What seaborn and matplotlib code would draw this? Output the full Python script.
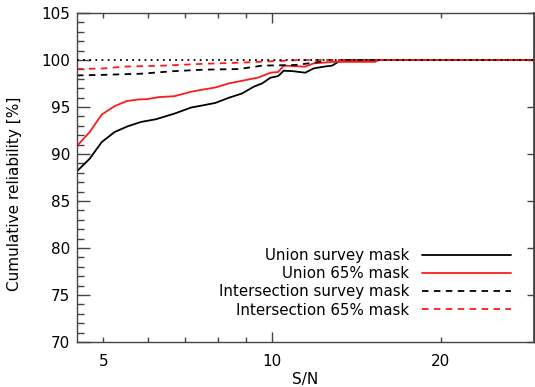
import numpy as np
import pandas as pd
import matplotlib
matplotlib.use("Agg")
import matplotlib.pyplot as plt
from matplotlib.ticker import FixedLocator, FuncFormatter, MultipleLocator, NullFormatter
import seaborn as sns

# Cumulative reliability (%) versus S/N threshold for each mask definition
sn_union_survey = [4.49, 4.73, 4.97, 5.24, 5.53, 5.84, 6.21, 6.70, 7.17, 7.55, 7.93, 8.37,
                   8.84, 9.27, 9.60, 9.93, 10.25, 10.49, 10.86, 11.46, 11.86, 12.36, 12.79,
                   13.23, 13.5, 29.5]
rel_union_survey = [88.17, 89.5, 91.27, 92.34, 92.95, 93.41, 93.70, 94.30, 94.94, 95.19, 95.44,
                    95.98, 96.44, 97.15, 97.51, 98.11, 98.29, 98.86, 98.82, 98.65, 99.11, 99.29,
                    99.40, 99.93, 100.0, 100.0]

sn_union_65 = [4.49, 4.73, 4.97, 5.24, 5.50, 5.77, 5.98, 6.28, 6.70, 7.17, 7.55, 7.93, 8.37,
               8.96, 9.47, 9.93, 10.25, 10.49, 11.46, 11.86, 12.36, 12.79, 15.27, 15.48, 29.5]
rel_union_65 = [90.85, 92.34, 94.2, 95.09, 95.62, 95.80, 95.83, 96.05, 96.15, 96.62, 96.87,
                97.08, 97.51, 97.86, 98.15, 98.65, 98.72, 99.40, 99.29, 99.64, 99.72, 99.80,
                99.80, 100.0, 100.0]

sn_inter_survey = [4.49, 5.0, 5.84, 6.70, 7.55, 8.73, 9.60, 10.99, 11.92, 12.6, 29.5]
rel_inter_survey = [98.36, 98.42, 98.54, 98.82, 98.97, 99.04, 99.40, 99.47, 99.72, 100.0, 100.0]

sn_inter_65 = [4.49, 5.0, 5.46, 6.4, 7.55, 8.6, 9.6, 10.5, 11.2, 29.5]
rel_inter_65 = [99.04, 99.10, 99.30, 99.40, 99.60, 99.70, 99.82, 99.92, 100.0, 100.0]

labels = ["Union survey mask", "Union 65% mask",
          "Intersection survey mask", "Intersection 65% mask"]

sns.set_theme(style="white")
plt.rcParams["font.family"] = ["DejaVu Sans"]
plt.rcParams["text.color"] = "black"
plt.rcParams["axes.labelcolor"] = "black"

fig = plt.figure(figsize=(5.35, 3.87), dpi=100)
ax = fig.add_axes([77 / 535, 45 / 387, 457 / 535, 329 / 387])

dash = (0, (3.6, 3.0))
lw = 1.3
sns.lineplot(x=sn_union_survey, y=rel_union_survey, ax=ax, color="black", lw=lw,
             label=labels[0], estimator=None, sort=False)
sns.lineplot(x=sn_union_65, y=rel_union_65, ax=ax, color="#ff1a1a", lw=lw,
             label=labels[1], estimator=None, sort=False)
sns.lineplot(x=sn_inter_survey, y=rel_inter_survey, ax=ax, color="black", lw=lw,
             linestyle=dash, label=labels[2], estimator=None, sort=False)
sns.lineplot(x=sn_inter_65, y=rel_inter_65, ax=ax, color="#ff1a1a", lw=lw,
             linestyle=dash, label=labels[3], estimator=None, sort=False)
ax.axhline(100, color="black", lw=1.3, linestyle=(0, (1, 2.4)), zorder=5)

ax.set_xscale("log")
ax.set_xlim(4.49, 29.3)
ax.set_ylim(70, 105)

# x ticks: decade tick is long, others short; labels at 5, 10 and 20
ax.xaxis.set_major_locator(FixedLocator([10]))
ax.xaxis.set_major_formatter(FuncFormatter(lambda v, p: f"{v:g}"))
ax.xaxis.set_minor_locator(FixedLocator([5, 6, 7, 8, 9, 20]))
ax.xaxis.set_minor_formatter(FuncFormatter(lambda v, p: f"{v:g}" if v in (5, 20) else ""))

ax.yaxis.set_major_locator(MultipleLocator(5))
ax.yaxis.set_minor_locator(MultipleLocator(1))

tick_color = "#444444"
ax.tick_params(axis="x", which="both", direction="in", top=True, bottom=True,
               colors=tick_color, labelcolor="black", labelsize=11, pad=9, width=1.0)
ax.tick_params(axis="x", which="major", length=7)
ax.tick_params(axis="x", which="minor", length=3.5)
ax.tick_params(axis="y", which="both", direction="in", left=True, right=False,
               colors=tick_color, labelcolor="black", labelsize=11, pad=5, width=1.0)
ax.tick_params(axis="y", which="major", length=9)
ax.tick_params(axis="y", which="minor", length=5)

right = ax.secondary_yaxis("right")
right.yaxis.set_major_locator(MultipleLocator(5))
right.yaxis.set_minor_locator(FixedLocator([]))
right.yaxis.set_major_formatter(NullFormatter())
right.tick_params(direction="in", length=5, width=1.0, colors=tick_color)
right.spines["right"].set_color(tick_color)

for s in ax.spines.values():
    s.set_color(tick_color)
    s.set_linewidth(1.0)

ax.set_xlabel("S/N", fontsize=11, labelpad=2, color="black")
ax.set_ylabel("Cumulative reliability [%]", fontsize=11, color="black")
ax.yaxis.set_label_coords(-0.121, 0.45)

leg = ax.legend(loc="lower right", bbox_to_anchor=(0.949, 0.074), frameon=False,
                markerfirst=False, fontsize=10.8, handlelength=5.9, handletextpad=0.85,
                labelspacing=0.22, borderpad=0, borderaxespad=0, labelcolor="black")

fig.savefig("out.png", dpi=100)
